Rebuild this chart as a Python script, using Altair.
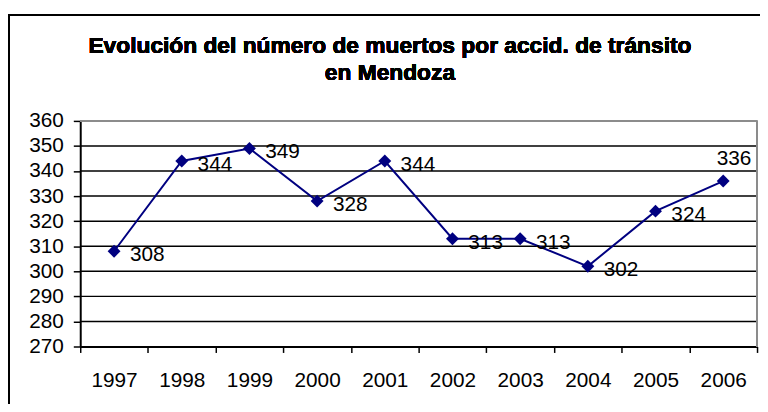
import altair as alt
import pandas as pd

YEARS = ["1997", "1998", "1999", "2000", "2001", "2002", "2003", "2004", "2005", "2006"]
DEATHS = [308, 344, 349, 328, 344, 313, 313, 302, 324, 336]
Y_TICKS = [270, 280, 290, 300, 310, 320, 330, 340, 350, 360]
GRID = [280, 290, 300, 310, 320, 330, 340, 350]
TITLE = ["Evolución del número de muertos por accid. de tránsito", "en Mendoza"]

df = pd.DataFrame({"year": YEARS, "deaths": DEATHS})
grid_df = pd.DataFrame({"deaths": GRID})

FONT = "Liberation Sans"
W, H = 684, 228
NAVY = "#000080"

x = alt.X("year:N", sort=YEARS, title=None,
          scale=alt.Scale(type="band", paddingInner=0, paddingOuter=0),
          axis=alt.Axis(labelAngle=0, tickBand="extent", tickSize=6, tickWidth=1.5,
                        tickColor="black", domainColor="black", domainWidth=2,
                        labelFontSize=21, labelFont=FONT, labelColor="black",
                        labelPadding=17, grid=False))
y = alt.Y("deaths:Q", title=None,
          scale=alt.Scale(domain=[270, 360], nice=False, zero=False),
          axis=alt.Axis(values=Y_TICKS, tickSize=7, tickWidth=1.5, tickColor="black",
                        domainColor="black", domainWidth=2, labelFontSize=21,
                        labelFont=FONT, labelColor="black", labelPadding=10, grid=False))

grid = alt.Chart(grid_df).mark_rule(color="black", strokeWidth=1.5).encode(y=y)

border_top = alt.Chart(df).mark_rule(color="#8c8c8c", strokeWidth=2).encode(
    x=alt.value(0), x2=alt.value(W), y=alt.value(0))
border_right = alt.Chart(df).mark_rule(color="#8c8c8c", strokeWidth=2).encode(
    x=alt.value(W), y=alt.value(0), y2=alt.value(H))

frame_top = alt.Chart(df).mark_rule(color="black", strokeWidth=2).encode(
    x=alt.value(-73), x2=alt.value(690), y=alt.value(-107))
frame_left = alt.Chart(df).mark_rule(color="black", strokeWidth=2).encode(
    x=alt.value(-72), y=alt.value(-107), y2=alt.value(290))

line = alt.Chart(df).mark_line(color=NAVY, strokeWidth=2).encode(x=x, y=y)
pts = alt.Chart(df).mark_point(shape="diamond", filled=True, color=NAVY, size=170, opacity=1).encode(x=x, y=y)

labels = alt.Chart(df).transform_filter("datum.year != '2006'").mark_text(
    align="left", baseline="middle", dx=16, dy=4, fontSize=21, font=FONT, color="black"
).encode(x=x, y=y, text="deaths:Q")
label_last = alt.Chart(df).transform_filter("datum.year == '2006'").mark_text(
    align="center", baseline="middle", dx=11, dy=-22, fontSize=21, font=FONT, color="black"
).encode(x=x, y=y, text="deaths:Q")

t1 = alt.Chart(df).mark_text(align="center", baseline="alphabetic", fontSize=23,
                             fontWeight="bold", font=FONT, color="black").encode(
    x=alt.value(313), y=alt.value(-69), text=alt.value(TITLE[0]))
t2 = alt.Chart(df).mark_text(align="center", baseline="alphabetic", fontSize=23,
                             fontWeight="bold", font=FONT, color="black").encode(
    x=alt.value(313), y=alt.value(-41), text=alt.value(TITLE[1]))

chart = alt.layer(
    grid, line, pts, labels, label_last, border_top, border_right, frame_top, frame_left, t1, t2
).properties(
    width=W, height=H,
    autosize=alt.AutoSizeParams(type="none"),
    padding={"left": 73, "top": 112, "right": 3, "bottom": 56},
    background="white",
).configure_view(strokeWidth=0)

chart.save("out.html", embed_options={"renderer": "svg", "actions": False})
